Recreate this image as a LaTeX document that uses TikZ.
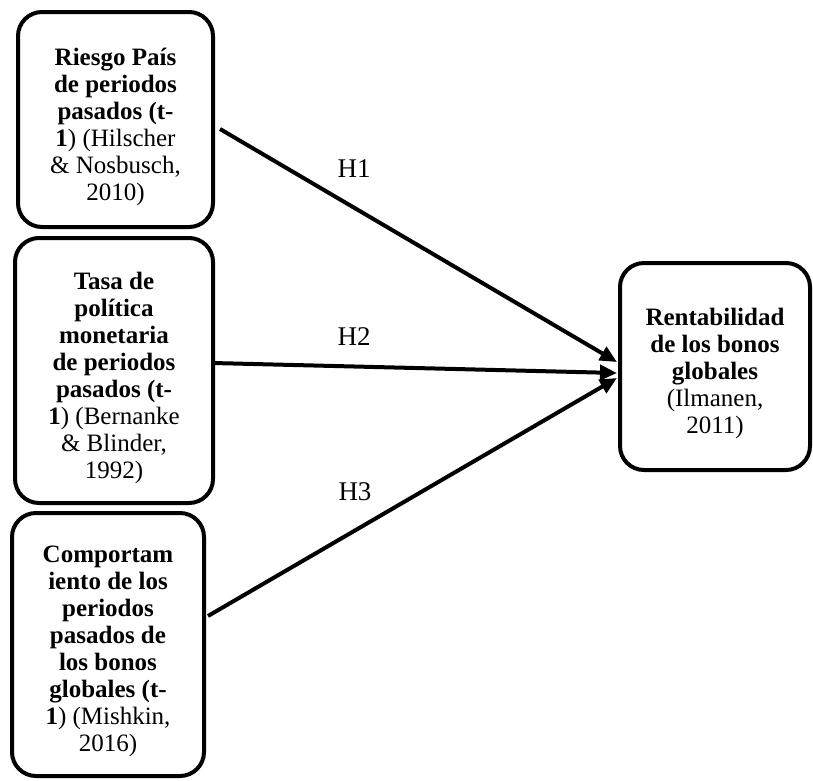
\documentclass[tikz,border=0pt]{standalone}
\usepackage{fontspec}
\setmainfont{Liberation Serif}
\usetikzlibrary{arrows.meta,calc}
\tikzset{
  boxnode/.style={draw=black, line width=4pt, rounded corners=24pt, fill=white, inner sep=0pt},
  boxtext/.style={align=center, inner sep=0pt, font=\fontsize{25}{27}\selectfont},
  hlabel/.style={inner sep=0pt, font=\fontsize{27}{30}\selectfont},
  conn/.style={line width=4pt, -{Triangle[length=17pt,width=15pt]}},
}
\begin{document}
\begin{tikzpicture}[x=1pt,y=-1pt]
\useasboundingbox (0,0) rectangle (813,780);
% boxes
\node[boxnode, minimum width=195pt, minimum height=215pt] (b1) at (115.5,119.5) {};
\node[boxnode, minimum width=198pt, minimum height=265pt] (b2) at (114,370.5) {};
\node[boxnode, minimum width=192pt, minimum height=263pt] (b3) at (108,644.5) {};
\node[boxnode, minimum width=190pt, minimum height=207pt] (rb) at (715,366.5) {};
% texts
\node[boxtext] (t1) at ($(b1.center)+(0,7)$) {\textbf{Riesgo País}\\\textbf{de periodos}\\\textbf{pasados (t-}\\\textbf{1}) (Hilscher\\\& Nosbusch,\\2010)};
\node[boxtext] (t2) at ($(b2.center)+(0,7)$) {\textbf{Tasa de}\\\textbf{política}\\\textbf{monetaria}\\\textbf{de periodos}\\\textbf{pasados (t-}\\\textbf{1}) (Bernanke\\\& Blinder,\\1992)};
\node[boxtext] (t3) at ($(b3.center)+(0,7)$) {\textbf{Comportam}\\\textbf{iento de los}\\\textbf{periodos}\\\textbf{pasados de}\\\textbf{los bonos}\\\textbf{globales (t-}\\\textbf{1}) (Mishkin,\\2016)};
\node[boxtext] (tr) at ($(rb.center)+(0,7)$) {\textbf{Rentabilidad}\\\textbf{de los bonos}\\\textbf{globales}\\(Ilmanen,\\2011)};
% connector end points
\coordinate (s1) at ($(b1.east)+(5,9.5)$);
\coordinate (s2) at ($(b2.east)+(-2,-7.5)$);
\coordinate (s3) at ($(b3.east)+(2,-28.5)$);
\coordinate (e1) at ($(rb.west)+(-1,-4.5)$);
\coordinate (e2) at ($(rb.west)+(-1,6.5)$);
\coordinate (e3) at ($(rb.west)+(-1,11.5)$);
\draw[conn] (s1) -- (e1);
\draw[conn] (s2) -- (e2);
\draw[conn] (s3) -- (e3);
% labels
\node[hlabel] (h1) at (354,169) {H1};
\node[hlabel] (h2) at (354,337) {H2};
\node[hlabel] (h3) at (355,492) {H3};
\end{tikzpicture}
\end{document}
